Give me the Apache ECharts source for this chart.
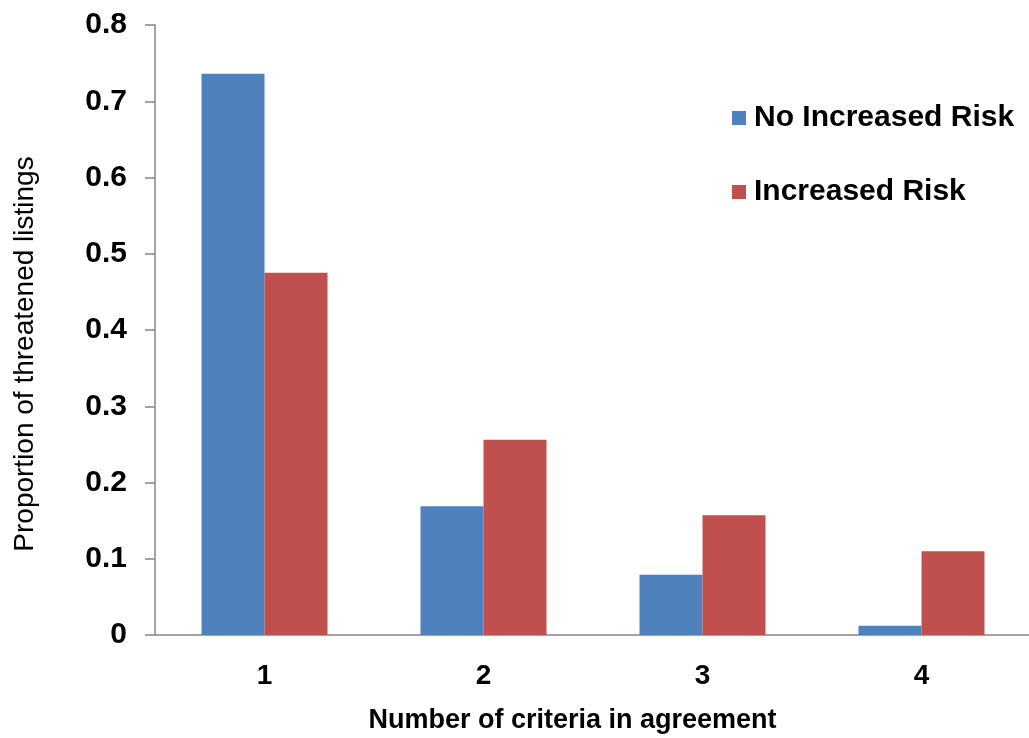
<!DOCTYPE html>
<html>
<head>
<meta charset="utf-8">
<title>Proportion of threatened listings</title>
<script src="https://cdn.jsdelivr.net/npm/echarts@6/dist/echarts.min.js"></script>
<style>
  html, body { margin: 0; padding: 0; background: #ffffff; }
  #chart { width: 1029px; height: 738px; }
</style>
</head>
<body>
<div id="chart"></div>
<script>
// Number of criteria in agreement
const categories = ['1', '2', '3', '4'];
// Proportion of threatened listings per group
const noIncreasedRisk = [0.736, 0.169, 0.079, 0.012];
const increasedRisk = [0.475, 0.256, 0.157, 0.110];
const seriesNames = ['No Increased Risk', 'Increased Risk'];

const FONT = '"Liberation Sans", Arial, sans-serif';
const AXIS_GREY = '#868686';

const chart = echarts.init(document.getElementById('chart'), null, { renderer: 'canvas' });

chart.setOption({
  backgroundColor: '#ffffff',
  animation: false,
  color: ['#4F81BD', '#C0504D'],
  grid: {
    left: 155, top: 25, width: 876, height: 610,
    containLabel: false,
    outerBoundsMode: 'none'
  },
  legend: {
    orient: 'vertical',
    left: 727,
    top: 98,
    itemWidth: 14,
    itemHeight: 14,
    itemGap: 44,
    icon: 'rect',
    textStyle: { fontFamily: FONT, fontSize: 30, fontWeight: 'bold', color: '#000', padding: [0, 0, 0, 3] },
    data: seriesNames
  },
  xAxis: {
    type: 'category',
    data: categories,
    name: 'Number of criteria in agreement',
    nameLocation: 'middle',
    nameGap: 72,
    nameTextStyle: { fontFamily: FONT, fontSize: 27, fontWeight: 'bold', color: '#000', padding: [0, 41, 0, 0] },
    axisLine: { lineStyle: { color: AXIS_GREY, width: 1.5 } },
    axisTick: { length: 9, lineStyle: { color: AXIS_GREY, width: 1.5 } },
    axisLabel: { fontFamily: FONT, fontSize: 28, fontWeight: 'bold', color: '#000', margin: 27 },
    splitLine: { show: false }
  },
  yAxis: {
    type: 'value',
    min: 0,
    max: 0.8,
    interval: 0.1,
    name: 'Proportion of threatened listings',
    nameLocation: 'middle',
    nameGap: 116,
    nameTextStyle: { fontFamily: FONT, fontSize: 28, color: '#000', padding: [0, 0, 0, -48] },
    axisLine: { show: true, lineStyle: { color: AXIS_GREY, width: 1.5 } },
    axisTick: { show: true, length: 10, lineStyle: { color: AXIS_GREY, width: 1.5 } },
    axisLabel: {
      fontFamily: FONT, fontSize: 30, fontWeight: 'bold', color: '#000', margin: 28,
      formatter: v => (Math.round(v * 10) / 10).toString()
    },
    splitLine: { show: false }
  },
  series: [
    {
      name: seriesNames[0],
      type: 'bar',
      data: noIncreasedRisk,
      barWidth: 63,
      barGap: '0%'
    },
    {
      name: seriesNames[1],
      type: 'bar',
      data: increasedRisk,
      barWidth: 63,
      barGap: '0%'
    }
  ]
});
</script>
</body>
</html>
